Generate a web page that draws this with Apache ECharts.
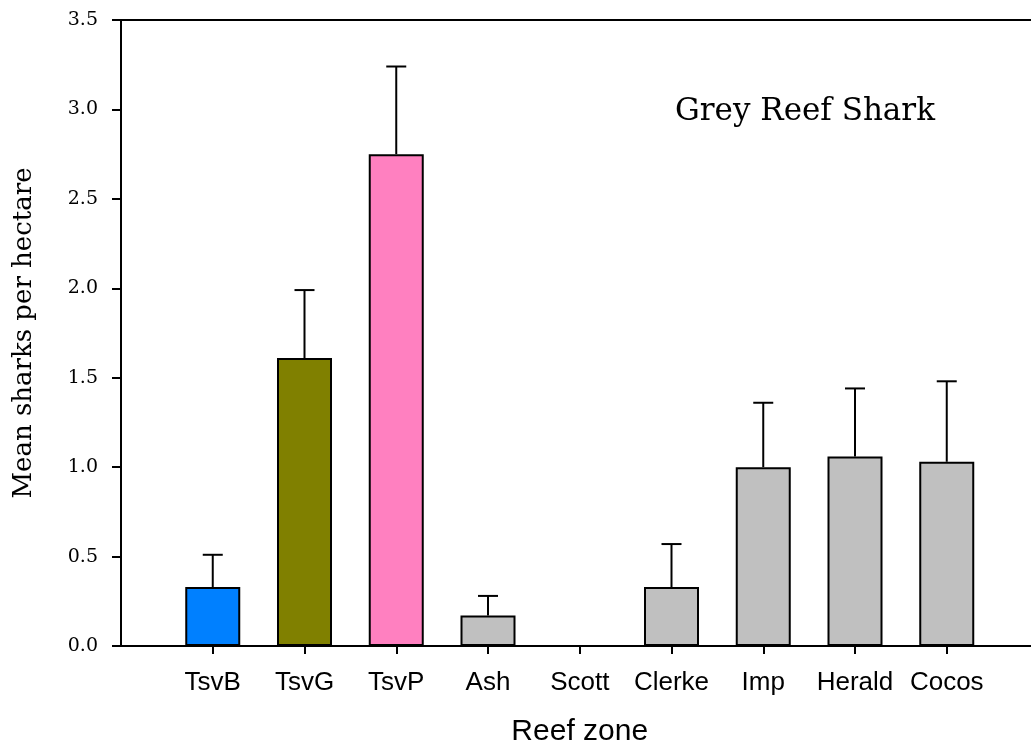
<!DOCTYPE html>
<html>
<head>
    <meta charset="utf-8">
    <title>Grey Reef Shark</title>
    <script src="https://cdn.jsdelivr.net/npm/echarts@6/dist/echarts.min.js"></script>
    <style>
        html, body { margin: 0; padding: 0; background: #fff; }
    </style>
</head>
<body>
    <div id="main" style="width: 1031px;height:752px;"></div>
    <script type="text/javascript">
        // reef zones (blank slots at each end give the gap before TsvB and after Cocos)
        var zones = ['', 'TsvB', 'TsvG', 'TsvP', 'Ash', 'Scott', 'Clerke', 'Imp', 'Herald', 'Cocos', '']
        var means = [null, 0.33, 1.61, 2.75, 0.17, 0, 0.33, 1.00, 1.06, 1.03, null]
        var upper = [null, 0.51, 1.99, 3.24, 0.28, 0, 0.57, 1.36, 1.44, 1.48, null]
        var barColors = ['#c0c0c0', '#0080ff', '#808000', '#ff80c0', '#c0c0c0', '#c0c0c0',
                         '#c0c0c0', '#c0c0c0', '#c0c0c0', '#c0c0c0', '#c0c0c0']
        var yTicks = [0, 3.5, 0.5]   // min, max, step

        var barData = []
        var errData = []
        for (var i = 0; i < zones.length; i++) {
            if (means[i] === null) {
                barData.push('-')
                continue
            }
            barData.push({ value: means[i], itemStyle: { color: barColors[i] } })
            if (upper[i] > means[i]) errData.push([i, means[i], upper[i]])
        }

        var myChart = echarts.init(document.getElementById('main'))
        var option = {
            animation: false,
            backgroundColor: '#fff',
            title: {
                text: 'Grey Reef Shark',
                left: 670,
                top: 91,
                textStyle: {
                    fontFamily: 'DejaVu Serif',
                    fontWeight: 'normal',
                    fontSize: 31,
                    color: '#000'
                }
            },
            grid: {
                left: 121,
                top: 20,
                right: -7.5,
                bottom: 106,
                outerBoundsMode: 'none',
                containLabel: false,
                show: true,
                borderColor: '#000',
                borderWidth: 2,
                backgroundColor: 'transparent'
            },
            xAxis: {
                type: 'category',
                data: zones,
                boundaryGap: false,
                name: 'Reef zone',
                nameLocation: 'middle',
                nameGap: 71,
                nameTextStyle: { fontFamily: 'Liberation Sans', fontSize: 30, color: '#000', verticalAlign: 'top' },
                axisLine: { lineStyle: { color: '#000', width: 2 } },
                axisTick: {
                    length: 8,
                    lineStyle: { color: '#000', width: 2 },
                    interval: function (idx) { return idx > 0 && idx < zones.length - 1 }
                },
                axisLabel: {
                    interval: 0,
                    margin: 24,
                    color: '#000',
                    fontFamily: 'Liberation Sans',
                    fontSize: 26
                },
                splitLine: { show: false }
            },
            yAxis: {
                type: 'value',
                min: yTicks[0],
                max: yTicks[1],
                interval: yTicks[2],
                name: 'Mean sharks per hectare',
                nameLocation: 'middle',
                nameGap: 84,
                nameTextStyle: { fontFamily: 'DejaVu Serif', fontSize: 26, color: '#000' },
                axisLine: { show: true, lineStyle: { color: '#000', width: 2 } },
                axisTick: { show: true, length: 9, lineStyle: { color: '#000', width: 2 } },
                axisLabel: {
                    margin: 23,
                    color: '#000',
                    fontFamily: 'DejaVu Serif',
                    fontSize: 19,
                    formatter: function (v) { return v.toFixed(1) }
                },
                splitLine: { show: false }
            },
            series: [
                {
                    name: 'mean',
                    type: 'bar',
                    barWidth: 55,
                    data: barData,
                    itemStyle: { borderColor: '#000', borderWidth: 2 },
                    z: 2
                },
                {
                    name: 'error',
                    type: 'custom',
                    data: errData,
                    z: 3,
                    renderItem: function (params, api) {
                        var lo = api.coord([api.value(0), api.value(1)])
                        var hi = api.coord([api.value(0), api.value(2)])
                        var cap = 10
                        return {
                            type: 'group',
                            children: [
                                { type: 'line', shape: { x1: lo[0], y1: lo[1], x2: hi[0], y2: hi[1] },
                                  style: { stroke: '#000', lineWidth: 2 } },
                                { type: 'line', shape: { x1: hi[0] - cap, y1: hi[1], x2: hi[0] + cap, y2: hi[1] },
                                  style: { stroke: '#000', lineWidth: 2 } }
                            ]
                        }
                    }
                }
            ]
        };
        myChart.setOption(option);
    </script>
</body>
</html>
